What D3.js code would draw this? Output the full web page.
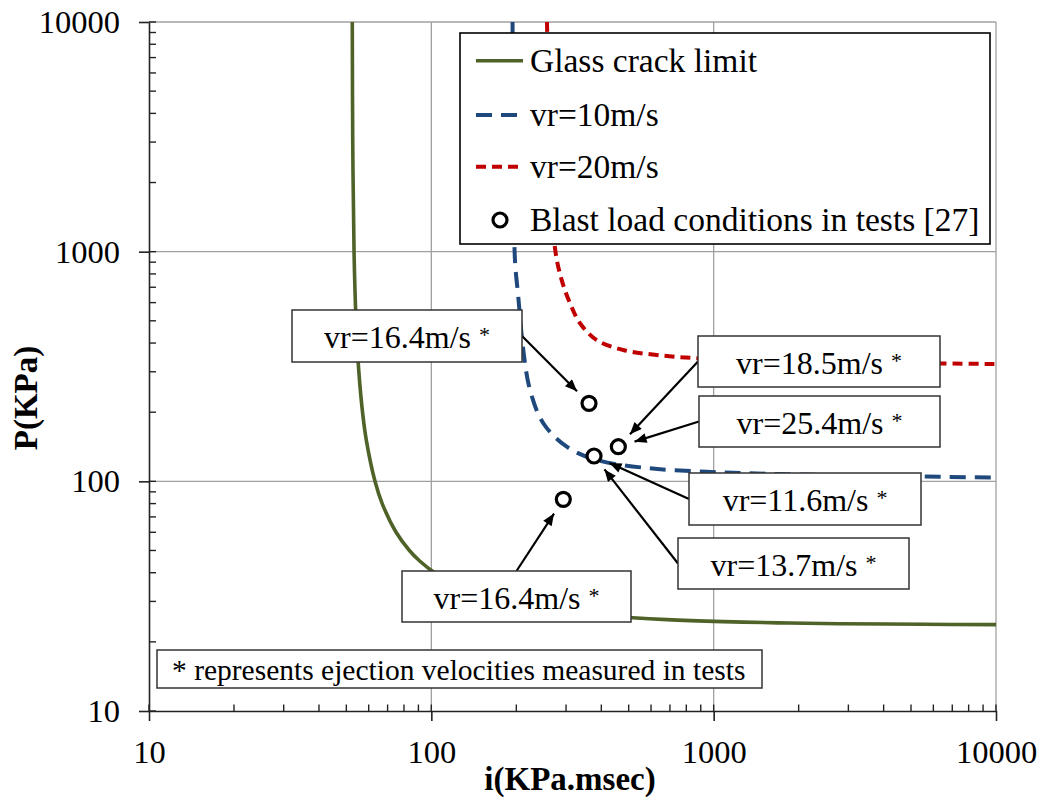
<!DOCTYPE html>
<html>
<head>
<meta charset="utf-8">
<script src="https://cdn.jsdelivr.net/npm/d3@7"></script>
<style>
  body { margin: 0; background: #fff; }
  text { font-family: "Liberation Serif", "Times New Roman", serif; fill: #000; }
</style>
</head>
<body>
<svg id="chart" width="1044" height="801"></svg>
<script>
// values (i in KPa.msec, P in KPa)
const glassI = [52.48, 52.68, 53.24, 54.12, 55.37, 57.06, 58.9, 63.16, 66.98, 75.02, 83.62, 90.94, 102.8, 125.1, 151.3, 182.7, 243.3, 301.2, 409.4, 683.9, 1079, 1694, 2789, 5526, 10000];
const glassP = [10000, 3000, 1000, 500, 300, 200, 150, 100, 80, 60, 50, 45, 40, 35, 32, 30, 28, 27, 26, 25, 24.5, 24.2, 24.0, 23.85, 23.78];

const vr10I = [193.9, 195.4, 197.8, 203.2, 211.7, 223.6, 249.2, 301.7, 385.3, 594.9, 944.8, 1345, 3041, 10000];
const vr10P = [10000, 2771, 920, 637, 373, 250, 179, 141.5, 123.9, 113.9, 110.1, 108.4, 106, 103.9];

const vr20I = [256.8, 263.3, 274.2, 289.6, 309.9, 336.2, 385.3, 478.6, 628.4, 894.5, 2022, 10000];
const vr20P = [10000, 3032, 1034, 752, 596, 488, 412, 373, 355, 343, 332.5, 324.3];

const testI = [361.8, 459.6, 376.9, 293.4];
const testP = [218.6, 141.5, 128.9, 83.5];

const noteLabels = ["vr=16.4m/s", "vr=18.5m/s", "vr=25.4m/s", "vr=11.6m/s", "vr=13.7m/s", "vr=16.4m/s"];
const notePoint = [0, 1, 1, 2, 2, 3];

const tickValues = [10, 100, 1000, 10000];
const tickLabels = ["10", "100", "1000", "10000"];

const legendNames = ["Glass crack limit", "vr=10m/s", "vr=20m/s", "Blast load conditions in tests [27]"];
const footnote = "* represents ejection velocities measured in tests";

// layout
const plotLeft = 149, plotRight = 996, plotTop = 22, plotBottom = 711;
const colors = { glass: "#4f6228", vr10: "#1f497d", vr20: "#c00000" };
const dashes = { glass: null, vr10: "16,9", vr20: "10,6" };
const noteBoxes = [
    { x: 292, y: 310, w: 230, h: 52, from: "right" },
    { x: 698, y: 336, w: 242, h: 51, from: "left" },
    { x: 699, y: 396, w: 241, h: 51, from: "left" },
    { x: 689, y: 473, w: 232, h: 52, from: "left" },
    { x: 678, y: 538, w: 231, h: 51, from: "left" },
    { x: 402, y: 571, w: 229, h: 51, from: "top" }
];

const svg = d3.select("#chart");
const x = d3.scaleLog().domain([10, 10000]).range([plotLeft, plotRight]);
const y = d3.scaleLog().domain([10, 10000]).range([plotBottom, plotTop]);

const defs = svg.append("defs");
defs.append("clipPath").attr("id", "plot-clip")
    .append("rect")
    .attr("x", plotLeft).attr("y", plotTop)
    .attr("width", plotRight - plotLeft).attr("height", plotBottom - plotTop);

defs.append("marker")
    .attr("id", "arrow")
    .attr("viewBox", "0 0 12 10")
    .attr("refX", 12).attr("refY", 5)
    .attr("markerWidth", 13).attr("markerHeight", 10)
    .attr("markerUnits", "userSpaceOnUse")
    .attr("orient", "auto")
    .append("path")
    .attr("d", "M0,0 L12,5 L0,10 Z")
    .attr("fill", "#000");

// grid
const grid = svg.append("g");
grid.selectAll(".gx")
    .data(tickValues.slice(1))
    .join("line")
    .attr("class", "gx")
    .attr("x1", d => x(d)).attr("x2", d => x(d))
    .attr("y1", plotTop).attr("y2", plotBottom)
    .attr("stroke", "#a0a0a0").attr("stroke-width", 1.3);
grid.selectAll(".gy")
    .data(tickValues.slice(1))
    .join("line")
    .attr("class", "gy")
    .attr("x1", plotLeft).attr("x2", plotRight)
    .attr("y1", d => y(d)).attr("y2", d => y(d))
    .attr("stroke", "#a0a0a0").attr("stroke-width", 1.3);

// curves
const line = d3.line()
    .x(d => x(d[0]))
    .y(d => y(d[1]))
    .curve(d3.curveCatmullRom.alpha(0.5));

const series = [
    { key: "glass", pts: d3.zip(glassI, glassP) },
    { key: "vr10", pts: d3.zip(vr10I, vr10P) },
    { key: "vr20", pts: d3.zip(vr20I, vr20P) }
];

svg.append("g")
    .attr("clip-path", "url(#plot-clip)")
    .selectAll("path")
    .data(series)
    .join("path")
    .attr("d", d => line(d.pts))
    .attr("fill", "none")
    .attr("stroke", d => colors[d.key])
    .attr("stroke-width", d => d.key == "glass" ? 3.6 : 4)
    .attr("stroke-dasharray", d => dashes[d.key]);

// test points
const tests = d3.zip(testI, testP);
svg.append("g")
    .selectAll("circle")
    .data(tests)
    .join("circle")
    .attr("cx", d => x(d[0]))
    .attr("cy", d => y(d[1]))
    .attr("r", 7)
    .attr("fill", "#fff")
    .attr("stroke", "#000")
    .attr("stroke-width", 3.2);

// annotation boxes with arrows
const notes = svg.append("g")
    .selectAll("g")
    .data(noteLabels.map((label, i) => ({ label, box: noteBoxes[i], pt: tests[notePoint[i]] })))
    .join("g");

notes.append("line")
    .each(function(d) {
        const b = d.box;
        let sx, sy;
        if (b.from == "right") { sx = b.x + b.w; sy = b.y + b.h / 2; }
        else if (b.from == "left") { sx = b.x; sy = b.y + b.h / 2; }
        else { sx = b.x + b.w / 2; sy = b.y; }
        const cx = x(d.pt[0]), cy = y(d.pt[1]);
        const len = Math.hypot(cx - sx, cy - sy);
        const ex = cx - (cx - sx) * 17 / len, ey = cy - (cy - sy) * 17 / len;
        d3.select(this)
            .attr("x1", sx).attr("y1", sy)
            .attr("x2", ex).attr("y2", ey);
    })
    .attr("stroke", "#000")
    .attr("stroke-width", 2.2)
    .attr("marker-end", "url(#arrow)");

notes.append("rect")
    .attr("x", d => d.box.x).attr("y", d => d.box.y)
    .attr("width", d => d.box.w).attr("height", d => d.box.h)
    .attr("fill", "#fff")
    .attr("stroke", "#333")
    .attr("stroke-width", 1.5);

const noteText = notes.append("text")
    .attr("x", d => d.box.x + d.box.w / 2)
    .attr("y", d => d.box.y + 38)
    .attr("text-anchor", "middle")
    .style("font-size", "32px");
noteText.append("tspan").text(d => d.label + " ");
noteText.append("tspan")
    .attr("dy", -6)
    .style("font-size", "22px")
    .text("*");

// legend
const legend = svg.append("g");
legend.append("rect")
    .attr("x", 460).attr("y", 33)
    .attr("width", 530).attr("height", 211)
    .attr("fill", "#fff")
    .attr("stroke", "#000")
    .attr("stroke-width", 1.6);

const rows = legend.selectAll("g.row")
    .data(legendNames)
    .join("g")
    .attr("class", "row")
    .attr("transform", (d, i) => `translate(0, ${[60.7, 115, 166.7, 220][i]})`);

rows.filter((d, i) => i < 3)
    .append("line")
    .attr("x1", 476).attr("x2", 523)
    .attr("y1", 0).attr("y2", 0)
    .attr("stroke", (d, i) => colors[series[i].key])
    .attr("stroke-width", (d, i) => i == 0 ? 3.6 : 4)
    .attr("stroke-dasharray", (d, i) => dashes[series[i].key]);

rows.filter((d, i) => i == 3)
    .append("circle")
    .attr("cx", 500).attr("cy", 0)
    .attr("r", 7)
    .attr("fill", "#fff")
    .attr("stroke", "#000")
    .attr("stroke-width", 3.2);

rows.append("text")
    .attr("x", 530)
    .attr("dy", "0.33em")
    .style("font-size", "33.5px")
    .text(d => d);

// footnote
svg.append("rect")
    .attr("x", 157).attr("y", 650)
    .attr("width", 605).attr("height", 38)
    .attr("fill", "#fff")
    .attr("stroke", "#333")
    .attr("stroke-width", 1.5);
svg.append("text")
    .attr("x", 172).attr("y", 680)
    .style("font-size", "29.5px")
    .text(footnote);

// axes
const axisX = d3.axisBottom(x)
    .tickValues(tickValues)
    .tickFormat((d, i) => tickLabels[i])
    .tickSizeInner(10).tickSizeOuter(0).tickPadding(19);
const axisY = d3.axisLeft(y)
    .tickValues(tickValues)
    .tickFormat((d, i) => tickLabels[i])
    .tickSizeInner(10).tickSizeOuter(0).tickPadding(19);

const gx = svg.append("g")
    .attr("transform", `translate(0, ${plotBottom})`)
    .call(axisX);
const gy = svg.append("g")
    .attr("transform", `translate(${plotLeft}, 0)`)
    .call(axisY);

[gx, gy].forEach(g => {
    g.attr("font-family", null).attr("font-size", null);
    g.selectAll("text").style("font-size", "32.5px");
    g.select(".domain").attr("stroke", "#222").attr("stroke-width", 1.6);
    g.selectAll(".tick line").attr("stroke", "#222").attr("stroke-width", 1.6);
});

// minor ticks pointing inward (plus inner part of the major ticks)
gx.selectAll(".minor")
    .data(x.ticks())
    .join("line")
    .attr("class", "minor")
    .attr("x1", d => x(d)).attr("x2", d => x(d))
    .attr("y1", 0).attr("y2", -6.5)
    .attr("stroke", "#222").attr("stroke-width", 1.4);
gy.selectAll(".minor")
    .data(y.ticks())
    .join("line")
    .attr("class", "minor")
    .attr("y1", d => y(d)).attr("y2", d => y(d))
    .attr("x1", 0).attr("x2", 7)
    .attr("stroke", "#222").attr("stroke-width", 1.4);

// axis titles
svg.append("text")
    .attr("x", 570).attr("y", 790)
    .attr("text-anchor", "middle")
    .style("font-size", "33px")
    .style("font-weight", "bold")
    .text("i(KPa.msec)");
svg.append("text")
    .attr("transform", "translate(37, 398) rotate(-90)")
    .attr("text-anchor", "middle")
    .style("font-size", "33px")
    .style("font-weight", "bold")
    .text("P(KPa)");
</script>
</body>
</html>
